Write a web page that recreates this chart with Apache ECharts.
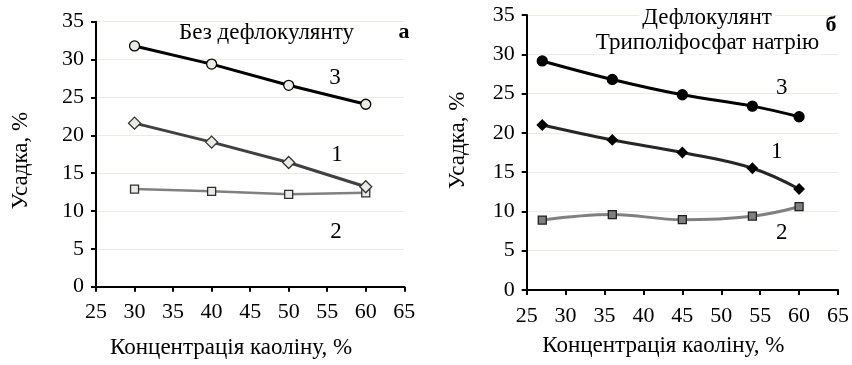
<!DOCTYPE html>
<html>
<head>
<meta charset="utf-8">
<script src="https://cdn.jsdelivr.net/npm/echarts@6/dist/echarts.min.js"></script>
<style>html,body{margin:0;padding:0;background:#fff}#c{width:852px;height:365px}</style>
</head>
<body>
<div id="c"></div>
<script>
// Left panel (а): no deflocculant
const xLeft = [30, 40, 50, 60];
const left3 = [31.8, 29.4, 26.6, 24.1];
const left1 = [21.6, 19.1, 16.4, 13.2];
const left2 = [12.9, 12.6, 12.2, 12.4];
// Right panel (б): sodium tripolyphosphate
const xRight = [27, 36, 45, 54, 60];
const right3 = [29.15, 26.8, 24.85, 23.4, 22.05];
const right1 = [21.0, 19.1, 17.5, 15.5, 12.85];
const right2 = [8.9, 9.6, 8.95, 9.4, 10.6];
const xTicks = [25, 30, 35, 40, 45, 50, 55, 60, 65];
const yTicks = [0, 5, 10, 15, 20, 25, 30, 35];

const FONT = '"Liberation Serif", "DejaVu Serif", serif';
const pairs = (xs, ys) => xs.map((x, i) => [x, ys[i]]);

function xAxisCfg(idx, gap) {
  return {
    type: 'value', gridIndex: idx, min: xTicks[0], max: xTicks[xTicks.length - 1], interval: 5,
    name: 'Концентрація каоліну, %', nameLocation: 'middle', nameGap: gap,
    nameTextStyle: {fontFamily: FONT, fontSize: 23, color: '#000', padding: [0, 38, 0, 0]},
    axisLine: {lineStyle: {color: '#000', width: 2}},
    axisTick: {show: true, length: 5, lineStyle: {color: '#000', width: 2}},
    axisLabel: {fontFamily: FONT, fontSize: 22, color: '#000', margin: 15},
    splitLine: {show: false}
  };
}
function yAxisCfg(idx, gap, pad) {
  return {
    type: 'value', gridIndex: idx, min: yTicks[0], max: yTicks[yTicks.length - 1], interval: 5,
    name: 'Усадка, %', nameLocation: 'middle', nameGap: gap,
    nameTextStyle: {fontFamily: FONT, fontSize: 23, color: '#000', padding: pad},
    axisLine: {show: true, lineStyle: {color: '#000', width: 2}},
    axisTick: {show: true, length: 5, lineStyle: {color: '#000', width: 2}},
    axisLabel: {fontFamily: FONT, fontSize: 22, color: '#000', margin: 12},
    splitLine: {show: true, lineStyle: {color: '#ebebe6', width: 1}}
  };
}
function line(idx, xs, ys, opts) {
  return {
    type: 'line', xAxisIndex: idx, yAxisIndex: idx, data: pairs(xs, ys),
    smooth: opts.smooth || false, symbol: opts.symbol, symbolSize: opts.size,
    lineStyle: {color: opts.color, width: opts.width},
    itemStyle: {color: opts.fill, borderColor: opts.border, borderWidth: 1.3},
    z: opts.z || 2, animation: false
  };
}
function txt(x, y, s, size, bold, bg) {
  return {type: 'text', x: x, y: y, z: 10,
    style: {text: s, font: (bold ? 'bold ' : '') + size + 'px ' + FONT, fill: '#000',
      align: 'center', verticalAlign: 'middle',
      backgroundColor: bg ? '#fff' : null, padding: bg ? [0, 3] : 0}};
}

const chart = echarts.init(document.getElementById('c'));
chart.setOption({
  backgroundColor: '#fff',
  animation: false,
  grid: [
    {left: 96, top: 21.7, width: 308.3, height: 265},
    {left: 526.7, top: 15, width: 312.7, height: 275}
  ],
  xAxis: [xAxisCfg(0, 50), xAxisCfg(1, 44)],
  yAxis: [yAxisCfg(0, 64, [0, 13, 0, 0]), yAxisCfg(1, 57, [0, 0, 0, 24])],
  series: [
    line(0, xLeft, left2, {symbol: 'rect', size: 8, color: '#808080', width: 2.5, fill: '#ebebe3', border: '#303030'}),
    line(0, xLeft, left1, {symbol: 'diamond', size: 12, color: '#404040', width: 3, fill: '#ebebe3', border: '#303030'}),
    line(0, xLeft, left3, {symbol: 'circle', size: 10, color: '#000', width: 3, fill: '#ebebe3', border: '#000'}),
    line(1, xRight, right2, {symbol: 'rect', size: 8, color: '#808080', width: 3, fill: '#7f7f7f', border: '#202020', smooth: 0.4}),
    line(1, xRight, right1, {symbol: 'diamond', size: 10, color: '#262626', width: 3, fill: '#000', border: '#000', smooth: 0.4}),
    line(1, xRight, right3, {symbol: 'circle', size: 10, color: '#000', width: 3, fill: '#000', border: '#000', smooth: 0.4})
  ],
  graphic: [
    txt(266.5, 33, 'Без дефлокулянту', 23, false, false),
    txt(404, 32, 'а', 22, true, false),
    txt(335, 78, '3', 23, false, false),
    txt(337, 155, '1', 23, false, false),
    txt(336, 232, '2', 23, false, false),
    txt(707, 18, 'Дефлокулянт', 23, false, true),
    txt(707.5, 43, 'Триполіфосфат натрію', 23, false, true),
    txt(831, 25, 'б', 22, true, false),
    txt(781.7, 88, '3', 23, false, false),
    txt(776.7, 152, '1', 23, false, false),
    txt(781.7, 233, '2', 23, false, true)
  ]
});
</script>
</body>
</html>
